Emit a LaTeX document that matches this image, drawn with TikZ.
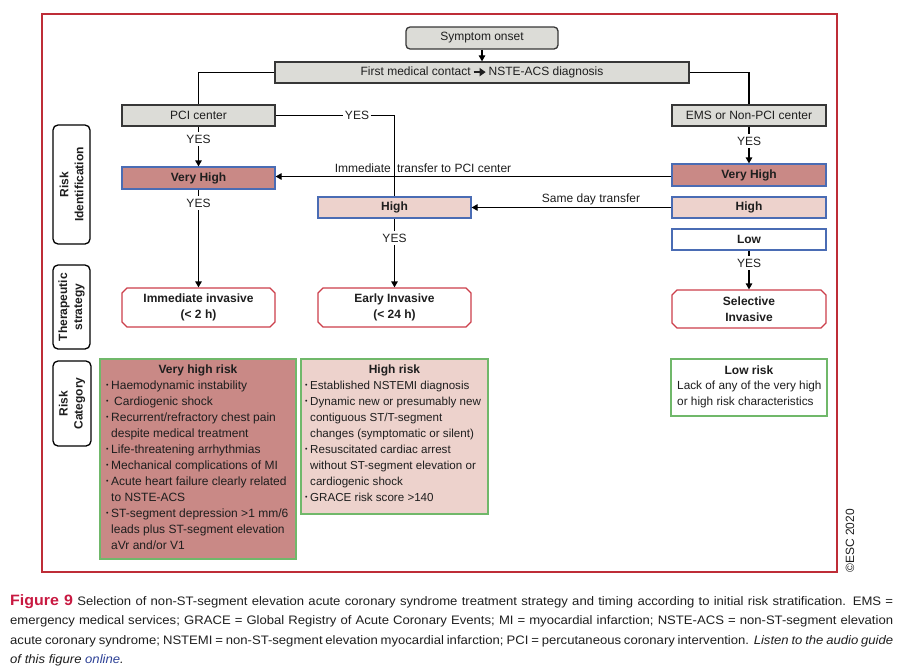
\documentclass[tikz,border=0pt]{standalone}
\usepackage{fontspec}
\setmainfont{Liberation Sans}
\newfontfamily\capfont[FakeStretch=1.065]{Liberation Sans}
\usetikzlibrary{arrows.meta,shapes.misc}

\definecolor{boxgray}{RGB}{220,220,215}
\definecolor{boxedge}{RGB}{55,55,55}
\definecolor{vhfill}{RGB}{201,137,134}
\definecolor{hfill}{RGB}{237,210,204}
\definecolor{blueedge}{RGB}{74,108,180}
\definecolor{rededge}{RGB}{204,62,74}
\definecolor{framered}{RGB}{190,45,55}
\definecolor{greenedge}{RGB}{112,184,106}
\definecolor{figred}{RGB}{200,25,65}
\definecolor{linkblue}{RGB}{45,65,150}
\definecolor{txt}{RGB}{30,30,30}

\newcommand\bul{\makebox[5pt][l]{\fontsize{7}{7}\selectfont\raisebox{1.6pt}{•}}}
\newcommand\cnt{\hspace*{5pt}}

\begin{document}
\begin{tikzpicture}[x=1pt,y=-1pt,
  every node/.style={text=txt},
  base/.style={inner sep=0pt, font=\fontsize{12}{14}\selectfont},
  gbox/.style={base, draw=boxedge, fill=boxgray, line width=1.3pt, minimum height=21pt},
  vhbox/.style={base, draw=blueedge, fill=vhfill, line width=1.2pt, minimum height=22pt, font=\fontsize{12}{14}\selectfont\bfseries},
  hbox/.style={vhbox, fill=hfill, minimum height=21pt},
  lbox/.style={vhbox, fill=white, minimum height=21pt},
  strat/.style={base, chamfered rectangle, chamfered rectangle xsep=2.5pt, chamfered rectangle ysep=2.5pt,
     draw=rededge, fill=white, line width=1.2pt, align=center,
     font=\fontsize{12}{16}\selectfont\bfseries},
  side/.style={base, draw=black, rounded corners=5pt, line width=1.3pt, rotate=90, align=center,
     font=\fontsize{12}{15}\selectfont\bfseries},
  riskbox/.style={draw=greenedge, line width=1.3pt, inner sep=0pt},
  rtitle/.style={inner sep=0pt, font=\fontsize{12}{14}\selectfont\bfseries},
  rbody/.style={inner sep=0pt, align=left, anchor=north west, font=\fontsize{12}{16}\selectfont},
  yes/.style={inner xsep=1.5pt, inner ysep=3pt, font=\fontsize{12}{14}\selectfont},
  lbl/.style={inner sep=1pt, font=\fontsize{12}{14}\selectfont},
  line/.style={draw=black, line width=1.2pt},
  arr/.style={line, -{Triangle[length=6pt,width=6.5pt]}},
  capline/.style={anchor=base west, inner sep=0pt, font=\capfont\fontsize{12.3}{15}\selectfont}
]
\useasboundingbox (0,0) rectangle (908,672);

% frame
\draw[framered, line width=1.3pt] (42,14) rectangle (837,572);

% top boxes
\node[gbox, rounded corners=4pt, minimum width=152pt, minimum height=22pt] (onset) at (482,38) {Symptom onset};
\node[gbox, minimum width=414pt] (fmc) at (482,72.5) {First medical contact\,\tikz[baseline=-3.5pt]\draw[-{Triangle[length=6pt,width=8pt]},line width=2pt](0,0)--(12pt,0);\,NSTE-ACS diagnosis};
\node[gbox, minimum width=153pt] (pci) at (198.5,115.5) {PCI center};
\node[gbox, minimum width=154pt] (ems) at (749,115.5) {EMS or Non-PCI center};

% risk identification boxes
\node[vhbox, minimum width=153pt] (vhL) at (198.5,178) {Very High};
\node[hbox, minimum width=153pt] (hM) at (394.5,207.5) {High};
\node[vhbox, minimum width=154pt] (vhR) at (749,175) {Very High};
\node[hbox, minimum width=154pt] (hR) at (749,207.5) {High};
\node[lbox, minimum width=154pt] (lowR) at (749,239.5) {Low};

% strategy boxes
\node[strat, minimum width=153pt, minimum height=39pt] (immInv) at (198.5,307.5) {Immediate invasive\\(< 2 h)};
\node[strat, minimum width=153pt, minimum height=39pt] (earlyInv) at (394.5,307.5) {Early Invasive\\(< 24 h)};
\node[strat, minimum width=154pt, minimum height=38pt] (selInv) at (749,309) {Selective\\Invasive};

% side labels
\node[side, minimum width=119pt, minimum height=37pt] (sideRI) at (71.5,184.5) {Risk\\Identification};
\node[side, minimum width=84pt, minimum height=37pt] (sideTS) at (71.5,307) {Therapeutic\\strategy};
\node[side, minimum width=85pt, minimum height=38pt] (sideRC) at (72,403.5) {Risk\\Category};

% connectors
\draw[arr] (onset) -- (fmc);
\draw[line] (fmc.west) -| (pci.north);
\draw[line] (fmc.east) -| (ems.north);

\node[yes] (y1) at (198.5,139) {YES};
\draw[line] (pci.south) -- (y1.north);
\draw[arr] (y1.south) -- (vhL.north);

\node[yes] (y2) at (198.5,203) {YES};
\draw[line] (vhL.south) -- (y2.north);
\draw[arr] (y2.south) -- (immInv.north);

\node[yes] (y3) at (357,115.5) {YES};
\draw[line] (pci.east) -- (y3.west);
\draw[line] (y3.east) -| (hM.north);

\node[yes] (y4) at (394.5,238) {YES};
\draw[line] (hM.south) -- (y4.north);
\draw[arr] (y4.south) -- (earlyInv.north);

\node[yes] (y5) at (749,141) {YES};
\draw[line] (ems.south) -- (y5.north);
\draw[arr] (y5.south) -- (vhR.north);

\node[yes] (y6) at (749,263) {YES};
\draw[line] (lowR.south) -- (y6.north);
\draw[arr] (y6.south) -- (selInv.north);

\path (vhR.west) ++(0,1.5) coordinate (tA);
\draw[arr] (tA) -- (tA -| vhL.east);
\node[lbl] (lImm) at (423,168.5) {Immediate\hspace{3pt} transfer to PCI center};

\draw[arr] (hR.west) -- (hM.east);
\node[lbl] (lSame) at (591,199) {Same day transfer};

% risk category boxes
\node[riskbox, fill=vhfill, minimum width=196pt, minimum height=200pt] (rcVH) at (198,459) {};
\node[rtitle] (tVH) at (198,370) {Very high risk};
\node[rbody] (bVH) at (106,380.5) {\bul Haemodynamic instability\\
\bul\hspace{3pt}Cardiogenic shock\\
\bul Recurrent/refractory chest pain\\
\cnt despite medical treatment\\
\bul Life-threatening arrhythmias\\
\bul Mechanical complications of MI\\
\bul Acute heart failure clearly related\\
\cnt to NSTE-ACS\\
\bul ST-segment depression >1 mm/6\\
\cnt leads plus ST-segment elevation\\
\cnt aVr and/or V1};

\node[riskbox, fill=hfill, minimum width=187pt, minimum height=155pt] (rcH) at (394.5,436.5) {};
\node[rtitle] (tH) at (394.5,370) {High risk};
\node[rbody, font=\fontsize{11.6}{16}\selectfont] (bH) at (305,380.5) {\bul Established NSTEMI diagnosis\\
\bul Dynamic new or presumably new\\
\cnt contiguous ST/T-segment\\
\cnt changes (symptomatic or silent)\\
\bul Resuscitated cardiac arrest\\
\cnt without ST-segment elevation or\\
\cnt cardiogenic shock\\
\bul GRACE risk score >140};

\node[riskbox, fill=white, minimum width=156pt, minimum height=57pt] (rcL) at (749,387.5) {};
\node[rtitle] (tL) at (749,370) {Low risk};
\node[rbody, font=\fontsize{11.8}{16}\selectfont] (bL) at (677,380.5) {Lack of any of the very high\\or high risk characteristics};

% copyright
\node[base, rotate=90, font=\fontsize{12}{14}\selectfont] (esc) at (850,541) {©ESC 2020};

% caption
\node[capline] (cap1) at (10,605) {\makebox[883pt][s]{{\fontsize{15}{15}\selectfont\bfseries\color{figred}Figure 9} Selection of non-ST-segment elevation acute coronary syndrome treatment strategy and timing according to initial risk stratification. EMS =}};
\node[capline] (cap2) at (10,624.5) {\makebox[883pt][s]{emergency medical services; GRACE = Global Registry of Acute Coronary Events; MI = myocardial infarction; NSTE-ACS = non-ST-segment elevation}};
\node[capline] (cap3) at (10,644) {\makebox[883pt][s]{acute coronary syndrome; NSTEMI = non-ST-segment elevation myocardial infarction; PCI = percutaneous coronary intervention. \itshape Listen to the audio guide}};
\node[capline] (cap4) at (10,663) {\itshape of this figure {\color{linkblue}online}.};
\end{tikzpicture}
\end{document}
